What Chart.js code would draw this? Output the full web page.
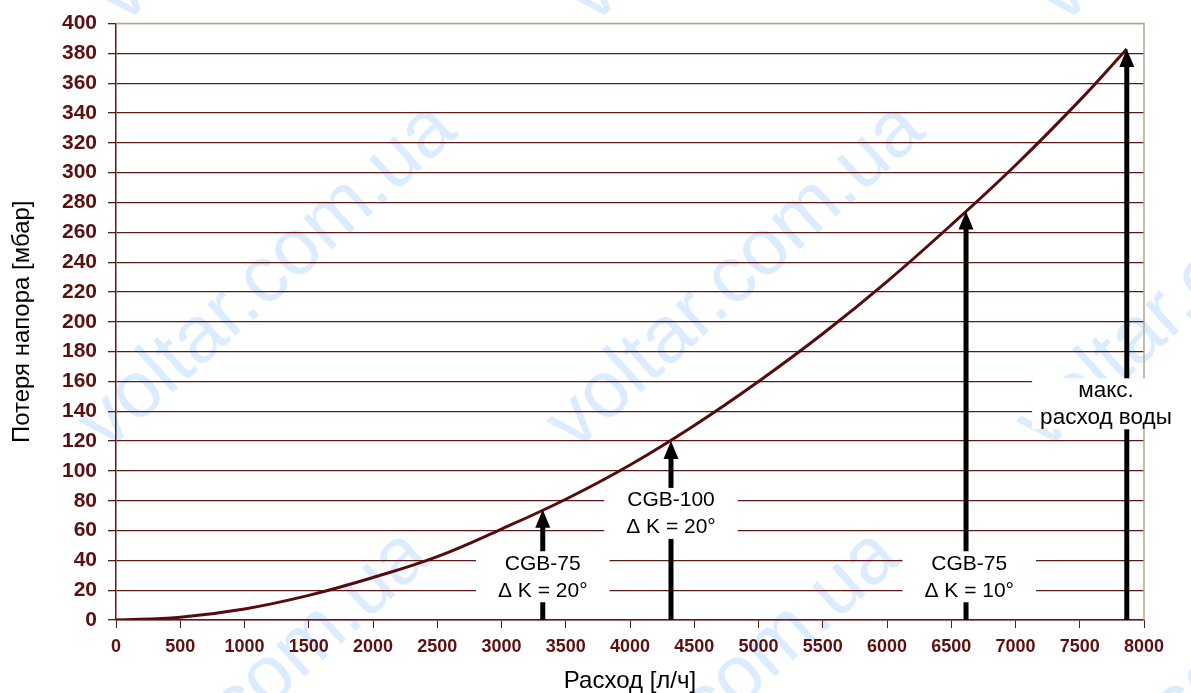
<!DOCTYPE html>
<html>
<head>
<meta charset="utf-8">
<script src="https://cdn.jsdelivr.net/npm/chart.js@4.4.1/dist/chart.umd.min.js"></script>
<style>
  html, body { margin: 0; padding: 0; background: #fff; }
  canvas { display: block; }
</style>
</head>
<body>
<canvas id="chart" width="1191" height="693"></canvas>
<script>
// flow [l/h] vs pressure loss [mbar]
const flow = [0, 500, 1000, 1500, 2000, 2500, 3000, 3500, 4000, 4500, 5000, 5500, 6000, 6500, 7000, 7500, 7866];
const loss = [0, 1.9, 7.4, 16.5, 28.5, 42.5, 61, 81, 104, 130.5, 160, 192, 227, 265, 305, 348.5, 383];

// arrows pointing up to the curve
const arrowFlow = [3321, 4319, 6615, 7866];
const arrowLoss = [74, 120, 274, 383];

// annotation texts and where they sit (in axis units)
const noteLines = [
    ['CGB-75', '\u0394 K = 20\u00b0'],
    ['CGB-100', '\u0394 K = 20\u00b0'],
    ['CGB-75', '\u0394 K = 10\u00b0'],
    ['\u043c\u0430\u043a\u0441.', '\u0440\u0430\u0441\u0445\u043e\u0434 \u0432\u043e\u0434\u044b'],
];
const noteFlow = [3321, 4319, 6640, 7704];
const noteLoss = [29, 71.5, 29, 145];
const notePad = [22, 22, 22, 8];
const noteSize = [21, 21, 21, 22.5];

const xTitle = '\u0420\u0430\u0441\u0445\u043e\u0434 [\u043b/\u0447]';
const yTitle = '\u041f\u043e\u0442\u0435\u0440\u044f \u043d\u0430\u043f\u043e\u0440\u0430 [\u043c\u0431\u0430\u0440]';

const FONT = "'Liberation Sans', Arial, sans-serif";
const MAROON = '#5c1010';
const GRID = '#5e1818';
const FRAME = '#b2a890';

const watermark = {
    id: 'watermark',
    beforeDraw(chart) {
        const ctx = chart.ctx;
        ctx.save();
        ctx.fillStyle = '#fff';
        ctx.fillRect(0, 0, chart.width, chart.height);
        ctx.fillStyle = '#dcecff';
        ctx.font = '80px ' + FONT;
        ctx.textAlign = 'center';
        ctx.textBaseline = 'middle';
        const spots = [
            [285, -150], [755, -150], [1225, -150],
            [268, 277], [736, 277], [1206, 277],
            [241, 704], [711, 704], [1181, 704],
        ];
        spots.forEach(([cx, cy]) => {
            ctx.save();
            ctx.translate(cx, cy);
            ctx.rotate(-42 * Math.PI / 180);
            ctx.fillText('voltar.com.ua', 0, 0);
            ctx.restore();
        });
        ctx.restore();
    },
};

const notes = {
    id: 'notes',
    afterDatasetsDraw(chart) {
        const ctx = chart.ctx;
        const xs = chart.scales.x;
        const ys = chart.scales.y;
        const area = chart.chartArea;

        ctx.save();
        // top/right frame
        ctx.strokeStyle = FRAME;
        ctx.lineWidth = 1.5;
        ctx.beginPath();
        ctx.moveTo(area.left, area.top);
        ctx.lineTo(area.right, area.top);
        ctx.lineTo(area.right, area.bottom);
        ctx.stroke();

        // arrows
        ctx.fillStyle = '#000';
        arrowFlow.forEach((f, i) => {
            const x = xs.getPixelForValue(f);
            const yTip = ys.getPixelForValue(arrowLoss[i]);
            const yBase = ys.getPixelForValue(0);
            const headLen = 18;
            const headHalf = 7.5;
            ctx.fillRect(x - 2.5, yTip + headLen - 1, 5, yBase - yTip - headLen + 1);
            ctx.beginPath();
            ctx.moveTo(x, yTip);
            ctx.lineTo(x - headHalf, yTip + headLen);
            ctx.lineTo(x + headHalf, yTip + headLen);
            ctx.closePath();
            ctx.fill();
        });

        // label boxes
        ctx.textAlign = 'center';
        ctx.textBaseline = 'middle';
        noteLines.forEach((lines, i) => {
            ctx.font = noteSize[i] + 'px ' + FONT;
            const cx = xs.getPixelForValue(noteFlow[i]);
            const cy = ys.getPixelForValue(noteLoss[i]);
            const w = Math.max(...lines.map((t) => ctx.measureText(t).width)) + notePad[i] * 2;
            const h = 51;
            ctx.fillStyle = '#fff';
            ctx.fillRect(cx - w / 2, cy - h / 2, w, h);
            ctx.fillStyle = '#000';
            ctx.fillText(lines[0], cx, cy - 13);
            ctx.fillText(lines[1], cx, cy + 14);
        });
        ctx.restore();
    },
};

new Chart(document.getElementById('chart'), {
    type: 'line',
    data: {
        datasets: [
            {
                data: flow.map((f, i) => ({ x: f, y: loss[i] })),
                borderColor: '#560c0c',
                borderWidth: 3,
                pointRadius: 0,
                fill: false,
                tension: 0.4,
            },
        ],
    },
    options: {
        responsive: false,
        animation: false,
        devicePixelRatio: 1,
        layout: { padding: { top: 20, right: 47, left: 0, bottom: 0 } },
        plugins: {
            legend: { display: false },
            tooltip: { enabled: false },
        },
        scales: {
            x: {
                type: 'linear',
                min: 0,
                max: 8000,
                afterFit: (s) => { s.height = 73; },
                ticks: {
                    stepSize: 500,
                    autoSkip: false,
                    maxRotation: 0,
                    padding: 8,
                    color: MAROON,
                    font: { family: FONT, size: 18, weight: 'bold' },
                    callback: (v) => String(v),
                },
                grid: {
                    drawOnChartArea: false,
                    tickLength: 8,
                    tickColor: GRID,
                },
                border: { color: GRID, width: 1.5 },
                title: {
                    display: true,
                    text: xTitle,
                    color: '#000',
                    font: { family: FONT, size: 24, lineHeight: 1 },
                    padding: { top: 0, bottom: 0 },
                },
            },
            y: {
                min: 0,
                max: 400,
                afterFit: (s) => { s.width = 116; },
                ticks: {
                    stepSize: 20,
                    autoSkip: false,
                    padding: 11,
                    color: MAROON,
                    font: { family: FONT, size: 21, weight: 'bold' },
                    callback: (v) => String(v),
                },
                grid: {
                    color: (c) => (c.tick && c.tick.value === 400 ? FRAME : GRID),
                    lineWidth: 1.3,
                    tickLength: 8,
                    tickColor: GRID,
                },
                border: { color: GRID, width: 1.5 },
                title: {
                    display: true,
                    text: yTitle,
                    color: '#000',
                    font: { family: FONT, size: 24, lineHeight: 1 },
                    padding: { top: 10, bottom: 0 },
                },
            },
        },
    },
    plugins: [watermark, notes],
});
</script>
</body>
</html>
